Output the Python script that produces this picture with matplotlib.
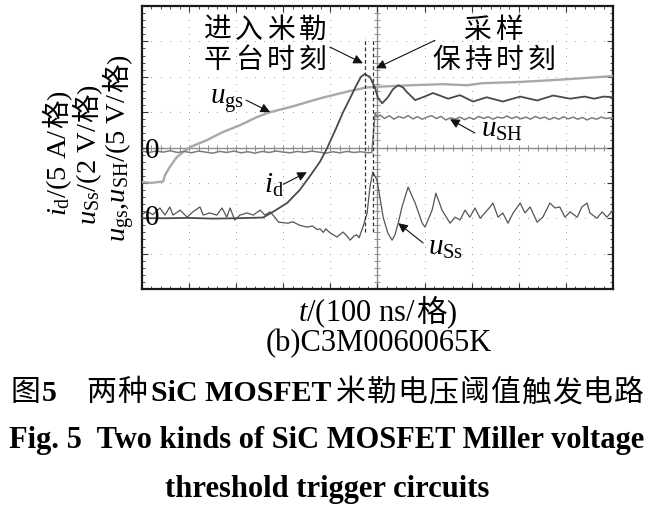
import numpy as np
import matplotlib
matplotlib.use('Agg')
import matplotlib.pyplot as plt

plt.rcParams['font.family'] = ['Liberation Serif', 'Noto Sans CJK SC']
plt.rcParams['mathtext.fontset'] = 'custom'
plt.rcParams['mathtext.rm'] = 'Liberation Serif'
plt.rcParams['mathtext.it'] = 'Liberation Serif:italic'

# scope traces, in screen divisions (x: 100 ns/div, y: 8 div tall)
ugs_t = [0, 0.2, 0.45, 0.49, 0.59, 0.74, 0.87, 1.02, 1.38, 1.72, 2.08, 2.44, 2.72,
         3.14, 3.5, 3.78, 3.99, 4.42, 4.78, 5.2, 5.69, 6.39, 6.9, 7.24, 7.96,
         8.66, 9.36, 10.0]
ugs_v = [3.02, 3.0, 3.04, 3.22, 3.45, 3.73, 3.87, 4.01, 4.21, 4.44, 4.63, 4.86, 5.0,
         5.14, 5.28, 5.39, 5.46, 5.6, 5.7, 5.73, 5.76, 5.79, 5.76, 5.82, 5.85,
         5.9, 5.96, 6.02]

id_t = [0, 0.5, 1.0, 1.5, 2.0, 2.57, 2.78, 3.08, 3.35, 3.57, 3.78, 3.93, 4.14,
        4.27, 4.42, 4.56, 4.65, 4.73, 4.84, 4.95, 5.01, 5.1, 5.22, 5.33, 5.44,
        5.54, 5.63, 5.8, 6.0, 6.18, 6.5, 6.75, 7.03, 7.32, 7.66, 8.03, 8.39,
        8.73, 9.09, 9.4, 9.6, 9.8, 10.0]
id_v = [2.0, 2.0, 2.01, 1.99, 2.0, 2.02, 2.18, 2.43, 2.8, 3.2, 3.6, 3.98, 4.6,
        5.0, 5.4, 5.78, 6.0, 6.08, 5.99, 5.68, 5.4, 5.25, 5.42, 5.65, 5.76,
        5.7, 5.56, 5.34, 5.44, 5.54, 5.38, 5.48, 5.3, 5.42, 5.3, 5.44, 5.33,
        5.47, 5.38, 5.44, 5.38, 5.44, 5.42]

uss_t = [0, 0.11, 0.23, 0.38, 0.49, 0.59, 0.66, 0.81, 0.96, 1.08, 1.23, 1.3,
         1.44, 1.59, 1.7, 1.8, 1.87, 1.97, 2.08, 2.23, 2.36, 2.51, 2.61, 2.72,
         2.82, 2.9, 3.1, 3.2, 3.35, 3.5, 3.62, 3.72, 3.78, 3.85, 3.9, 4.0,
         4.14, 4.27, 4.35, 4.42, 4.5, 4.56, 4.61, 4.69, 4.78, 4.84, 4.9, 4.99,
         5.05, 5.12, 5.22, 5.31, 5.37, 5.44, 5.52, 5.65, 5.8, 5.95, 6.01, 6.16,
         6.24, 6.37, 6.54, 6.65, 6.75, 6.86, 6.96, 7.07, 7.18, 7.28, 7.39, 7.45,
         7.56, 7.66, 7.77, 7.88, 8.03, 8.13, 8.24, 8.39, 8.51, 8.66, 8.77, 8.87,
         8.98, 9.09, 9.24, 9.34, 9.45, 9.51, 9.66, 9.77, 9.87, 10.0]
uss_v = [2.1, 2.2, 2.1, 2.29, 2.09, 2.32, 2.09, 2.23, 2.03, 2.18, 2.32, 2.09,
         2.15, 2.09, 2.29, 2.03, 2.29, 1.95, 2.09, 2.15, 2.09, 2.23, 2.09, 2.18,
         2.03, 1.89, 1.86, 1.9, 1.8, 1.75, 1.78, 1.68, 1.7, 1.6, 1.7, 1.58,
         1.47, 1.61, 1.5, 1.38, 1.5, 1.53, 1.45, 1.75, 2.15, 2.88, 3.31, 3.08,
         2.6, 2.03, 1.58, 1.38, 1.53, 1.86, 2.32, 2.88, 2.43, 1.86, 1.75, 2.23,
         2.71, 2.23, 1.86, 2.03, 1.95, 2.23, 2.03, 2.29, 2.0, 2.15, 2.32, 2.43,
         2.03, 2.15, 1.86, 2.15, 2.43, 2.15, 2.32, 1.89, 2.03, 2.43, 2.29, 2.32,
         2.03, 2.18, 2.03, 2.32, 2.43, 2.15, 2.0, 2.18, 2.03, 2.23]

ush_t = [0, 0.15, 0.3, 0.45, 0.6, 0.75, 0.9, 1.05, 1.2, 1.35, 1.5, 1.65, 1.8,
         1.95, 2.1, 2.25, 2.4, 2.55, 2.7, 2.85, 3.0, 3.15, 3.3, 3.45, 3.6, 3.75,
         3.9, 4.05, 4.2, 4.35, 4.5, 4.65, 4.8, 4.88, 4.92, 4.95, 5.0, 5.05, 5.15,
         5.25, 5.35, 5.45, 5.55, 5.65, 5.75, 5.85, 5.95, 6.05, 6.15, 6.25, 6.35,
         6.45, 6.55, 6.65, 6.75, 6.85, 6.95, 7.05, 7.15, 7.25, 7.35, 7.45, 7.55,
         7.65, 7.75, 7.85, 7.95, 8.05, 8.15, 8.25, 8.35, 8.45, 8.55, 8.65, 8.75,
         8.85, 8.95, 9.05, 9.15, 9.25, 9.35, 9.45, 9.55, 9.65, 9.75, 9.85, 9.95,
         10.0]
ush_v = [3.9, 3.86, 3.9, 3.87, 3.91, 3.86, 3.89, 3.85, 3.9, 3.87, 3.84, 3.89,
         3.86, 3.9, 3.85, 3.88, 3.84, 3.89, 3.86, 3.9, 3.87, 3.85, 3.89, 3.86,
         3.9, 3.87, 3.84, 3.88, 3.85, 3.89, 3.86, 3.88, 3.85, 3.86, 4.5, 4.97,
         4.85, 4.92, 4.82, 4.9, 4.8, 4.88, 4.83, 4.9, 4.81, 4.87, 4.8, 4.86, 4.9,
         4.82, 4.88, 4.78, 4.84, 4.8, 4.86, 4.79, 4.85, 4.8, 4.88, 4.82, 4.87,
         4.8, 4.86, 4.83, 4.89, 4.82, 4.87, 4.81, 4.86, 4.8, 4.88, 4.82, 4.86,
         4.79, 4.85, 4.8, 4.87, 4.81, 4.86, 4.8, 4.85, 4.78, 4.84, 4.8, 4.86,
         4.82, 4.84, 4.83]

marker_times = [4.73, 4.9]   # Miller plateau entry / sample-hold instant
zero_levels = [3.9, 2.0]

W, H = 654, 524
fig = plt.figure(figsize=(W / 100, H / 100), dpi=100)
renderer = fig.canvas.get_renderer()
ax = fig.add_axes([0.2171, 0.4485, 0.7202, 0.54])
ax.set_xlim(0, 10)
ax.set_ylim(0, 8)

CJK = ['Noto Sans CJK SC']
SERIF = ['Liberation Serif']


def text_run(cx, cy, pieces, size, rotation=0):
    """Lay text pieces end to end, centred on pixel (cx, cy) from top-left.
    pieces: (string, extra kwargs, gap after in px)."""
    arts, lens = [], []
    for s, extra, gap in pieces:
        t = fig.text(0, 0, s, fontsize=size, rotation=rotation, rotation_mode='anchor',
                     ha='left', va='baseline', **extra)
        bb = t.get_window_extent(renderer)
        arts.append(t)
        lens.append((bb.height if rotation == 90 else bb.width) + gap)
    total = sum(lens) - pieces[-1][2]
    drop = 0.35 * size * 100 / 72
    pos = -total / 2
    for t, ln in zip(arts, lens):
        if rotation == 90:
            px, py = cx + drop, cy - pos
        else:
            px, py = cx + pos, cy + drop
        t.set_position((px / W, 1 - py / H))
        pos += ln


def spaced(s, gap, **extra):
    return [(ch, extra, gap) for ch in s]


# graticule
minor = np.arange(0.2, 10, 0.2)
minor_y = np.arange(0.2, 8, 0.2)
for gx in [1, 2, 3, 4, 6, 7, 8, 9]:
    ax.scatter(np.full(len(minor_y), gx), minor_y, s=0.6, color='#9a9a9a', lw=0, zorder=1)
for gy in [1, 2, 3, 5, 6, 7]:
    ax.scatter(minor, np.full(len(minor), gy), s=0.6, color='#9a9a9a', lw=0, zorder=1)
ax.axvline(5, color='#8c8c8c', lw=1.0, zorder=1)
ax.axhline(4, color='#8c8c8c', lw=1.0, zorder=1)
ax.plot(minor, np.full(len(minor), 4), ls='none', marker='|', ms=4, mew=0.7, color='#8c8c8c', zorder=1)
ax.plot(np.full(len(minor_y), 5), minor_y, ls='none', marker='_', ms=4, mew=0.7, color='#8c8c8c', zorder=1)

ax.set_xticks(range(1, 10))
ax.set_yticks(range(1, 8))
ax.set_xticks(minor, minor=True)
ax.set_yticks(minor_y, minor=True)
ax.tick_params(which='both', direction='in', top=True, right=True,
               labelbottom=False, labelleft=False, color='#333333')
ax.tick_params(which='major', length=4, width=0.8)
ax.tick_params(which='minor', length=2, width=0.6)
for s in ax.spines.values():
    s.set_linewidth(1.6)
    s.set_color('#1a1a1a')

# traces
ax.plot(ugs_t, ugs_v, color='#a8a8a8', lw=1.7, zorder=3)
ax.plot(ush_t, ush_v, color='#7c7c7c', lw=1.1, zorder=3)
ax.plot(uss_t, uss_v, color='#555555', lw=0.9, zorder=3)
ax.plot(id_t, id_v, color='#4a4a4a', lw=1.3, zorder=4)
ax.vlines(marker_times, 1.6, 7.1, colors='#333333', linestyles=(0, (3, 2)), lw=0.9, zorder=5)

for z in zero_levels:
    ax.text(0.21, z, '0', fontsize=21, ha='center', va='center', zorder=6)

arrow = dict(arrowstyle='-|>', color='#111111', lw=0.8, mutation_scale=14, shrinkA=0, shrinkB=0)
cjk = dict(family=CJK)
text_run(265, 28, spaced('进入米勒', 4, **cjk), 20)
text_run(265, 58, spaced('平台时刻', 4, **cjk), 20)
text_run(493, 28, spaced('采样', 4, **cjk), 20)
text_run(494, 58, spaced('保持时刻', 4, **cjk), 20)
ax.annotate('', xy=(4.69, 6.38), xytext=(3.99, 6.84), arrowprops=arrow)
ax.annotate('', xy=(4.97, 6.24), xytext=(6.22, 7.03), arrowprops=arrow)

ax.text(1.8, 5.31, r'$u_{\mathrm{gs}}$', fontsize=21, ha='center', va='center')
ax.annotate('', xy=(2.72, 5.0), xytext=(2.21, 5.34), arrowprops=arrow)
ax.text(2.8, 2.94, r'$i_{\mathrm{d}}$', fontsize=21, ha='center', va='center')
ax.annotate('', xy=(3.5, 3.3), xytext=(3.0, 2.96), arrowprops=arrow)
ax.text(7.64, 4.49, r'$u_{\mathrm{SH}}$', fontsize=21, ha='center', va='center')
ax.annotate('', xy=(6.54, 4.8), xytext=(7.07, 4.41), arrowprops=arrow)
ax.text(6.45, 1.16, r'$u_{\mathrm{Ss}}$', fontsize=21, ha='center', va='center')
ax.annotate('', xy=(5.44, 1.86), xytext=(5.97, 1.3), arrowprops=arrow)

# axis labels (the CJK unit sign is set apart from the mathtext)
ser = dict(family=SERIF)
text_run(56, 153, [(r'$i_{\mathrm{d}}$/(5 A/', ser, 0), ('格', cjk, 0), (')', ser, 0)], 20.5, rotation=90)
text_run(86, 155, [(r'$u_{\mathrm{Ss}}$/(2 V/', ser, 0), ('格', cjk, 0), (')', ser, 0)], 20.5, rotation=90)
text_run(116, 148, [(r'$u_{\mathrm{gs}}$,$u_{\mathrm{SH}}$/(5 V/', ser, 0), ('格', cjk, 0), (')', ser, 0)], 20.5, rotation=90)
text_run(377, 311, [(r'$t$/(100 ns/', ser, 0), ('格', cjk, 0), (')', ser, 0)], 22)
text_run(379, 341, [('(b)C3M0060065K', ser, 0)], 22)

bold = dict(family=SERIF, weight='bold')
text_run(327, 391, [('图', cjk, 1), ('5', bold, 30), ('两', cjk, 1), ('种', cjk, 4),
                    ('SiC MOSFET', bold, 4)] + spaced('米勒电压阈值触发电', 1, **cjk)
         + [('路', cjk, 0)], 21.5)
fig.text(0.5, 0.16, 'Fig. 5  Two kinds of SiC MOSFET Miller voltage', fontsize=22, weight='bold', ha='center', va='center')
fig.text(0.5, 0.065, 'threshold trigger circuits', fontsize=22, weight='bold', ha='center', va='center')

fig.savefig('out.png', dpi=100)
